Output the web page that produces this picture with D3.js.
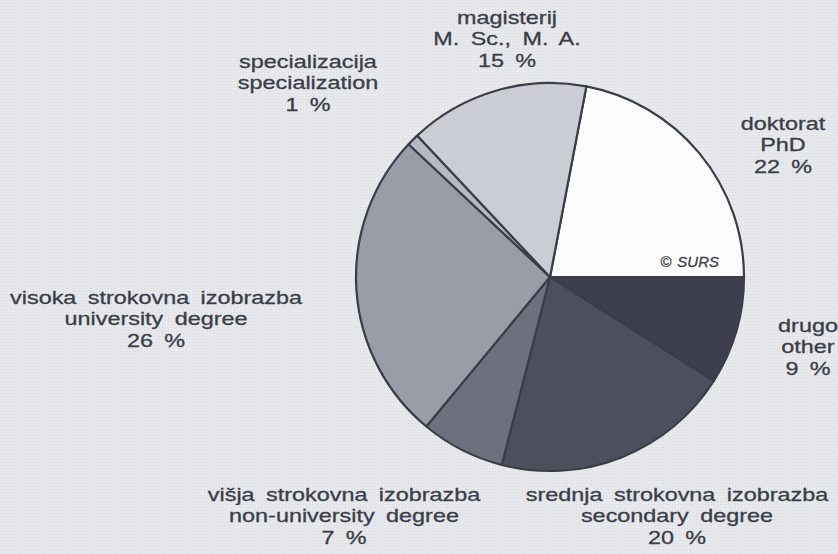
<!DOCTYPE html>
<html>
<head>
<meta charset="utf-8">
<script src="https://cdn.jsdelivr.net/npm/d3@7"></script>
<style>
  html, body { margin: 0; padding: 0; background: #e6e7ea; }
  svg { display: block; }
</style>
</head>
<body>
<svg id="chart" width="838" height="554"></svg>
<script>
// ---- data ----
const labelsSl = ["doktorat", "drugo", "srednja strokovna izobrazba", "višja strokovna izobrazba",
                  "visoka strokovna izobrazba", "specializacija", "magisterij"];
const labelsEn = ["PhD", "other", "secondary degree", "non-university degree",
                  "university degree", "specialization", "M. Sc., M. A."];
const shares = [22, 9, 20, 7, 26, 1, 15];
const percentLabels = ["22 %", "9 %", "20 %", "7 %", "26 %", "1 %", "15 %"];

// ---- layout / style ----
const W = 838, H = 554;
const cx = 550, cy = 277, R = 194;
const fills = ["#fcfcfc", "#3d404c", "#4c505d", "#6d717d", "#999da8", "#b6b9c1", "#cacdd3"];
const ink = "#3b3e49";
// label anchors: [centerX, firstBaselineY]
const anchors = [[783, 130], [808, 332], [677, 501], [344, 501], [156, 304], [308, 68], [507, 24]];
const lineH = 21.5;
const sx = 1.3;

const svg = d3.select("#chart");

// background texture
const defs = svg.append("defs");
const pat = defs.append("pattern").attr("id", "grain").attr("width", 3).attr("height", 3)
  .attr("patternUnits", "userSpaceOnUse");
pat.append("rect").attr("width", 3).attr("height", 3).attr("fill", "#e7e8eb");
pat.append("rect").attr("width", 1).attr("height", 1).attr("fill", "#d8dade");
svg.append("rect").attr("width", W).attr("height", H).attr("fill", "url(#grain)");

const total = d3.sum(shares);
const start = Math.PI / 2 - (shares[0] / total) * 2 * Math.PI;
const pie = d3.pie().sort(null).value(d => d)
  .startAngle(start).endAngle(start + 2 * Math.PI);
const arc = d3.arc().innerRadius(0).outerRadius(R);

const g = svg.append("g").attr("transform", `translate(${cx},${cy})`);
g.selectAll("path").data(pie(shares)).join("path")
  .attr("d", arc)
  .attr("fill", (d, i) => fills[i])
  .attr("stroke", ink)
  .attr("stroke-width", 2.2)
  .attr("stroke-linejoin", "round");

// copyright mark
const cp = svg.append("g").attr("font-family", "Liberation Sans, Arial, sans-serif")
  .attr("fill", ink).attr("stroke", ink).attr("stroke-width", 0.3);
cp.append("text").attr("x", 666).attr("y", 267).attr("text-anchor", "middle")
  .attr("font-size", 15).text("©");
cp.append("text").attr("x", 719).attr("y", 267).attr("text-anchor", "end")
  .attr("font-size", 15).attr("font-style", "italic").text("SURS");

// labels
labelsSl.forEach((sl, i) => {
  const [ax, ay] = anchors[i];
  const t = svg.append("g")
    .attr("transform", `translate(${ax},${ay}) scale(${sx},1)`);
  [sl, labelsEn[i], percentLabels[i]].forEach((line, k) => {
    t.append("text")
      .attr("x", 0).attr("y", k * lineH)
      .attr("text-anchor", "middle")
      .attr("font-family", "Liberation Sans, Arial, sans-serif")
      .attr("font-size", 18)
      .attr("word-spacing", 3.8)
      .attr("fill", ink)
      .attr("stroke", ink)
      .attr("stroke-width", 0.3)
      .text(line);
  });
});
</script>
</body>
</html>
